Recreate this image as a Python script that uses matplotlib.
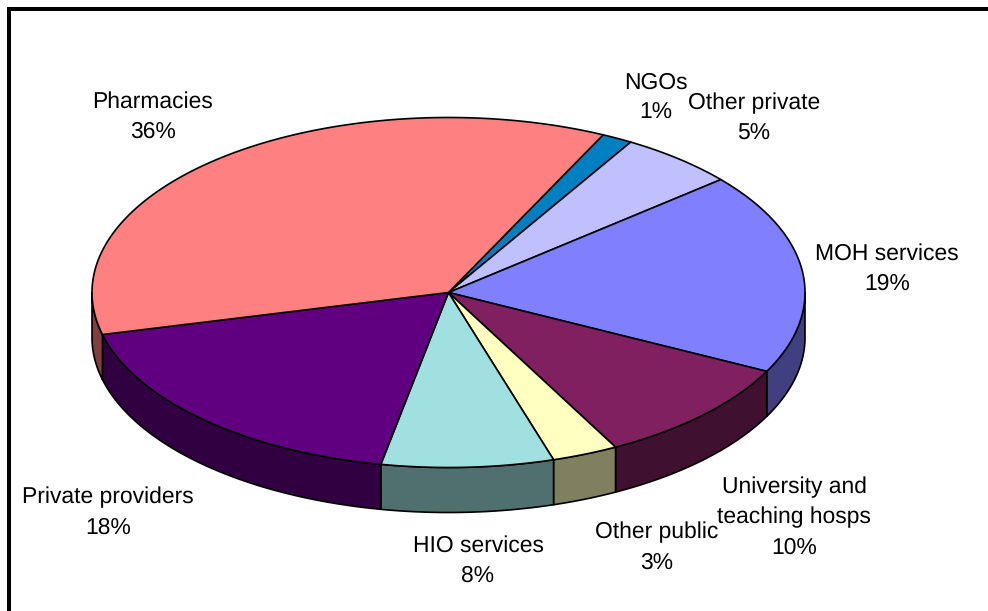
import numpy as np
import matplotlib
matplotlib.use("Agg")
import matplotlib.pyplot as plt
from matplotlib.patches import Polygon

plt.rcParams['font.family'] = ['Liberation Sans', 'DejaVu Sans']
plt.rcParams['text.hinting'] = 'none'

# Porcion de cada sector, en sentido horario desde NGOs
labels = ["NGOs", "Other private", "MOH services", "University and\nteaching hosps",
          "Other public", "HIO services", "Private providers", "Pharmacies"]
shares = [1.4, 5.3, 18.6, 9.8, 3.0, 7.8, 18.1, 36.0]
colors = ["#0080C0", "#C0C0FF", "#8080FF", "#802060",
          "#FFFFC0", "#A0E0E0", "#600080", "#FF8080"]
side_colors = ["#004060", "#606080", "#404080", "#401030",
               "#808060", "#507070", "#300040", "#804040"]
label_pos = [(656, 97.5), (754, 118.5), (887, 269), (794, 517.5),
             (657, 547.5), (478, 560.5), (108, 512.5), (153, 116.5)]

# Geometria del pastel en pixeles
cx, cy = 448.5, 292.5
rx, ry = 356.5, 175
depth = 45
start = 25.7


def rim(a0, a1, n=120):
    t = np.radians(np.linspace(a0, a1, n))
    return np.column_stack([cx + rx * np.sin(t), cy - ry * np.cos(t)])


fig = plt.figure(figsize=(9.88, 6.11), dpi=100)
ax = fig.add_axes([0, 0, 1, 1])
ax.set_xlim(0, 988)
ax.set_ylim(611, 0)
ax.axis("off")

# Marco superior e izquierdo
ax.plot([9, 9, 988], [611, 9, 9], color="black", lw=2.9, solid_joinstyle="miter")

edges = start + np.cumsum([0] + shares) * 3.6

# Pared lateral: solo la parte frontal del borde (90 a 270 grados)
for i in range(len(shares)):
    a0, a1 = edges[i], edges[i + 1]
    for shift in (0, 360):
        lo, hi = max(a0, 90 + shift), min(a1, 270 + shift)
        if lo < hi:
            top = rim(lo - shift, hi - shift)
            low = top[::-1] + [0, depth]
            ax.add_patch(Polygon(np.vstack([top, low]), closed=True, fc=side_colors[i],
                                 ec="black", lw=1.2, joinstyle="round", zorder=2))

# Cara superior
for i in range(len(shares)):
    pts = np.vstack([[cx, cy], rim(edges[i], edges[i + 1])])
    ax.add_patch(Polygon(pts, closed=True, fc=colors[i], ec="black", lw=1.2,
                         joinstyle="round", zorder=3))

for name, val, (x, y) in zip(labels, shares, label_pos):
    ax.text(x, y, f"{name}\n{val:.0f}%", ha="center", va="center", fontsize=16.5,
            color="black", linespacing=1.53, zorder=4)

fig.savefig("out.png", dpi=100, facecolor="white")
